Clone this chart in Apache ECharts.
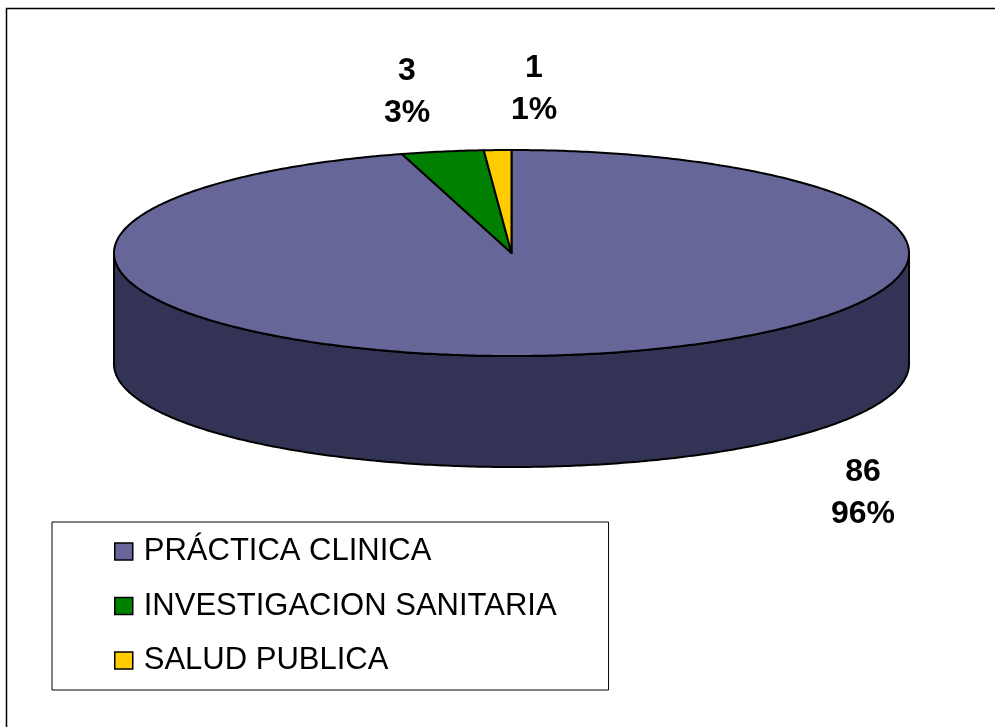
<!DOCTYPE html>
<html>
<head>
<meta charset="utf-8">
<title>Pie</title>
<script src="https://cdn.jsdelivr.net/npm/echarts@6/dist/echarts.min.js"></script>
<style>
  html, body { margin: 0; padding: 0; background: #fff; }
  #main { width: 995px; height: 727px; }
</style>
</head>
<body>
<div id="main"></div>
<script>
var categories = ['PRÁCTICA CLINICA', 'INVESTIGACION SANITARIA', 'SALUD PUBLICA'];
var values = [86, 3, 1];
var percents = ['96%', '3%', '1%'];
var colors = ['#666699', '#008000', '#FFCC00'];
var wallColor = '#333355';

// ellipse of the pie top and height of the wall
var cx = 511.5, cy = 253, rx = 397.5, ry = 103, depth = 111;
var labelPos = [[863, 493], [407, 92], [534, 89]];

var total = values.reduce(function (a, b) { return a + b; }, 0);

function pointAt(t, dy) {
  return [cx + rx * Math.sin(t), cy - ry * Math.cos(t) + (dy || 0)];
}

// points along the rim between two angles (clockwise from the top)
function arc(from, to, dy) {
  var pts = [];
  var n = Math.max(4, Math.ceil(Math.abs(to - from) / 0.01));
  for (var i = 0; i <= n; i++) {
    pts.push(pointAt(from + (to - from) * i / n, dy));
  }
  return pts;
}

function renderSlice(index) {
  return function () {
    var before = values.slice(0, index).reduce(function (a, b) { return a + b; }, 0);
    var start = before / total * Math.PI * 2;
    var end = (before + values[index]) / total * Math.PI * 2;
    var children = [];
    var lineStyle = { stroke: '#000', lineWidth: 2, lineJoin: 'round' };

    // the wall only shows on the front half of the rim
    var wallFrom = Math.max(start, Math.PI / 2);
    var wallTo = Math.min(end, Math.PI * 1.5);
    if (wallTo > wallFrom) {
      children.push({
        type: 'polygon',
        shape: { points: arc(wallFrom, wallTo, 0).concat(arc(wallTo, wallFrom, depth)) },
        style: Object.assign({ fill: wallColor }, lineStyle)
      });
    }
    children.push({
      type: 'polygon',
      shape: { points: [[cx, cy]].concat(arc(start, end, 0)) },
      style: Object.assign({ fill: colors[index] }, lineStyle)
    });
    children.push({
      type: 'text',
      x: labelPos[index][0],
      y: labelPos[index][1],
      style: {
        text: values[index] + '\n' + percents[index],
        fill: '#000',
        font: 'bold 32px "Liberation Sans", Arial, sans-serif',
        lineHeight: 42,
        align: 'center',
        verticalAlign: 'middle'
      }
    });
    return { type: 'group', children: children };
  };
}

var myChart = echarts.init(document.getElementById('main'), null, { renderer: 'canvas' });

myChart.setOption({
  animation: false,
  backgroundColor: '#fff',
  graphic: [{
    type: 'polyline',
    z: 0,
    shape: { points: [[6.5, 727], [6.5, 8.5], [995, 8.5]] },
    style: { stroke: '#000', lineWidth: 1.5, fill: null }
  }],
  legend: {
    left: 52,
    top: 522,
    orient: 'vertical',
    data: categories,
    icon: 'rect',
    itemWidth: 18,
    itemHeight: 17,
    itemGap: 23.5,
    padding: [14, 52, 14, 62],
    backgroundColor: '#fff',
    borderColor: '#000',
    borderWidth: 1,
    selectedMode: false,
    itemStyle: { borderColor: '#000', borderWidth: 1.5 },
    textStyle: { color: '#000', fontSize: 31, padding: [0, 0, 0, 6], fontFamily: '"Liberation Sans", Arial, sans-serif' }
  },
  series: categories.map(function (name, i) {
    return {
      type: 'custom',
      name: name,
      coordinateSystem: 'none',
      itemStyle: { color: colors[i] },
      data: [values[i]],
      renderItem: renderSlice(i),
      silent: true
    };
  })
});
</script>
</body>
</html>
